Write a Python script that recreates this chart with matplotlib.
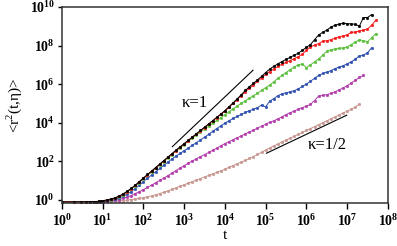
import matplotlib
matplotlib.use("Agg")
import matplotlib.pyplot as plt
from matplotlib.ticker import FixedLocator, FuncFormatter, NullLocator
import numpy as np

plt.rcParams["font.family"] = ["Liberation Serif", "DejaVu Serif"]
plt.rcParams["mathtext.fontset"] = "custom"
plt.rcParams["mathtext.rm"] = "Liberation Serif"
plt.rcParams["mathtext.bf"] = "Liberation Serif:bold"

# sampling times, as log10(t): integers 1..10, then every 0.1 decade
log_t = [0.0, 0.301, 0.477, 0.602, 0.699, 0.778, 0.845, 0.903, 0.954, 1.0,
         1.1, 1.2, 1.3, 1.4, 1.5, 1.6, 1.7, 1.8, 1.9, 2.0,
         2.1, 2.2, 2.3, 2.4, 2.5, 2.6, 2.7, 2.8, 2.9, 3.0,
         3.1, 3.2, 3.3, 3.4, 3.5, 3.6, 3.7, 3.8, 3.9, 4.0,
         4.1, 4.2, 4.3, 4.4, 4.5, 4.6, 4.7, 4.8, 4.9, 5.0,
         5.1, 5.2, 5.3, 5.4, 5.5, 5.6, 5.7, 5.8, 5.9, 6.0,
         6.1, 6.2, 6.3, 6.4, 6.5, 6.6, 6.7, 6.8, 6.9, 7.0,
         7.1, 7.2, 7.3, 7.4, 7.5, 7.6, 7.7]

# log10 <r^2>
black = [-0.10, -0.10, -0.10, -0.09, -0.09, -0.08, -0.08, -0.07, -0.06, -0.04,
         0.00, 0.05, 0.11, 0.20, 0.31, 0.45, 0.60, 0.77, 0.95, 1.14,
         1.32, 1.50, 1.68, 1.86, 2.04, 2.22, 2.40, 2.58, 2.75, 2.92,
         3.09, 3.26, 3.43, 3.60, 3.77, 3.94, 4.11, 4.28, 4.45, 4.63,
         4.83, 5.03, 5.23, 5.45, 5.67, 5.86, 6.04, 6.22, 6.40, 6.60,
         6.78, 6.92, 7.05, 7.17, 7.28, 7.38, 7.50, 7.60, 7.75, 7.90,
         8.05, 8.30, 8.55, 8.68, 8.80, 8.95, 9.05, 9.10, 9.15, 9.13,
         9.12, 9.10, 9.00, 9.45, 9.45, 9.60]
red = [-0.10, -0.10, -0.10, -0.09, -0.09, -0.08, -0.08, -0.07, -0.06, -0.04,
       -0.01, 0.03, 0.09, 0.18, 0.29, 0.43, 0.58, 0.75, 0.93, 1.12,
       1.30, 1.48, 1.66, 1.84, 2.02, 2.20, 2.38, 2.56, 2.73, 2.90,
       3.07, 3.24, 3.41, 3.58, 3.75, 3.92, 4.09, 4.26, 4.43, 4.60,
       4.80, 5.00, 5.20, 5.40, 5.60, 5.78, 5.96, 6.14, 6.32, 6.50,
       6.65, 6.78, 6.92, 7.03, 7.12, 7.22, 7.32, 7.42, 7.55, 7.75,
       7.93, 8.02, 8.10, 8.22, 8.25, 8.30, 8.38, 8.45, 8.50, 8.55,
       8.68, 8.70, 8.75, 8.80, 8.85, 9.05, 9.30]
green = [-0.10, -0.10, -0.10, -0.09, -0.09, -0.08, -0.08, -0.07, -0.06, -0.05,
         -0.02, 0.02, 0.08, 0.16, 0.27, 0.41, 0.56, 0.72, 0.90, 1.09,
         1.27, 1.45, 1.63, 1.81, 1.99, 2.17, 2.35, 2.53, 2.70, 2.87,
         3.04, 3.21, 3.37, 3.52, 3.67, 3.82, 3.97, 4.12, 4.27, 4.42,
         4.57, 4.72, 4.87, 5.00, 5.13, 5.27, 5.40, 5.53, 5.68, 5.82,
         5.95, 6.12, 6.30, 6.45, 6.60, 6.75, 6.88, 7.00, 7.05, 6.85,
         7.00, 7.15, 7.30, 7.50, 7.70, 7.78, 7.82, 7.85, 7.88, 7.92,
         8.05, 8.18, 8.30, 8.25, 8.20, 8.40, 8.60]
blue = [-0.10, -0.10, -0.10, -0.10, -0.09, -0.09, -0.09, -0.08, -0.08, -0.07,
        -0.05, -0.02, 0.03, 0.10, 0.19, 0.30, 0.43, 0.59, 0.76, 0.95,
        1.12, 1.29, 1.46, 1.63, 1.80, 1.96, 2.12, 2.27, 2.41, 2.55,
        2.69, 2.83, 2.97, 3.11, 3.25, 3.40, 3.55, 3.70, 3.84, 3.98,
        4.10, 4.22, 4.33, 4.43, 4.53, 4.62, 4.70, 4.78, 4.92, 4.82,
        5.12, 5.25, 5.40, 5.50, 5.55, 5.60, 5.66, 5.75, 5.88, 6.00,
        6.15, 6.30, 6.45, 6.55, 6.62, 6.70, 6.80, 6.88, 6.95, 7.05,
        7.15, 7.30, 7.45, 7.50, 7.62, 7.88]
magenta = [-0.10, -0.10, -0.10, -0.10, -0.10, -0.10, -0.10, -0.09, -0.09, -0.08,
           -0.07, -0.05, -0.02, 0.02, 0.08, 0.15, 0.23, 0.33, 0.43, 0.54,
           0.65, 0.77, 0.89, 1.01, 1.13, 1.26, 1.39, 1.52, 1.65, 1.78,
           1.90, 2.02, 2.13, 2.24, 2.35, 2.46, 2.57, 2.68, 2.80, 2.92,
           3.02, 3.12, 3.22, 3.32, 3.42, 3.52, 3.62, 3.72, 3.82, 3.92,
           4.02, 4.10, 4.20, 4.30, 4.42, 4.52, 4.60, 4.70, 4.78, 4.86,
           4.95, 5.15, 5.38, 5.42, 5.45, 5.52, 5.60, 5.70, 5.80, 5.92,
           6.05, 6.20, 6.35, 6.45]
brown = [-0.10, -0.10, -0.10, -0.10, -0.10, -0.10, -0.09, -0.09, -0.09, -0.09,
         -0.08, -0.07, -0.06, -0.05, -0.03, -0.01, 0.02, 0.05, 0.08, 0.12,
         0.16, 0.21, 0.27, 0.33, 0.40, 0.47, 0.55, 0.63, 0.71, 0.79,
         0.87, 0.95, 1.03, 1.11, 1.19, 1.27, 1.35, 1.43, 1.51, 1.60,
         1.69, 1.78, 1.87, 1.96, 2.05, 2.15, 2.25, 2.36, 2.47, 2.58,
         2.70, 2.80, 2.90, 3.00, 3.10, 3.20, 3.30, 3.40, 3.50, 3.60,
         3.70, 3.80, 3.90, 4.00, 4.10, 4.20, 4.30, 4.40, 4.50, 4.60,
         4.70, 4.82, 4.95]

series = [
    (black, "#000000"),
    (red, "#f41a1a"),
    (green, "#5cbf3c"),
    (blue, "#2f4fb0"),
    (magenta, "#b23caa"),
    (brown, "#c8968f"),
]

# guide lines: (log t start, log t end, log value at start, slope)
guide_k1 = (2.71, 4.69, 2.76, 2.0)
guide_k12 = (5.02, 6.99, 2.42, 1.0)

fig = plt.figure(figsize=(3.97, 2.46), dpi=100)
ax = fig.add_axes([0.156, 0.175, 0.821, 0.797])

for vals, col in reversed(series):
    t = 10 ** np.array(log_t[:len(vals)])
    ax.plot(t, 10 ** np.array(vals), color=col, lw=0.7, marker="o",
            ms=1.9, mec=col, mfc=col, mew=0.3)

for a, b, v0, s in (guide_k1, guide_k12):
    xs = np.array([a, b])
    ax.plot(10 ** xs, 10 ** (v0 + s * (xs - a)), color="black", lw=0.8)

ax.text(10 ** 3.26, 10 ** 5.03, "κ=1", fontsize=12, ha="center", va="center")
ax.text(10 ** 6.5, 10 ** 2.85, "κ=1/2", fontsize=12, ha="center", va="center")

ax.set_xscale("log")
ax.set_yscale("log")
ax.set_xlim(1, 1e8)
ax.set_ylim(0.7, 1e10)

ax.xaxis.set_major_locator(FixedLocator([10.0 ** k for k in range(9)]))
ax.yaxis.set_major_locator(FixedLocator([10.0 ** k for k in range(0, 11, 2)]))
ax.xaxis.set_minor_locator(NullLocator())
ax.yaxis.set_minor_locator(NullLocator())
fmt = FuncFormatter(lambda v, p: r"$\mathbf{10^{%d}}$" % round(np.log10(v)))
ax.xaxis.set_major_formatter(fmt)
ax.yaxis.set_major_formatter(fmt)
ax.tick_params(axis="x", direction="out", length=4.5, width=1, labelsize=10, pad=3)
ax.tick_params(axis="y", direction="out", length=3, width=1, labelsize=10, pad=2)

for sp in ax.spines.values():
    sp.set_color("#333333")
    sp.set_linewidth(1.1)

ax.set_xlabel("t", fontsize=11, labelpad=0)
ax.set_ylabel(r"<r$^{2}$(t,η)>", fontsize=11, labelpad=4)

fig.savefig("out.png", dpi=100)
